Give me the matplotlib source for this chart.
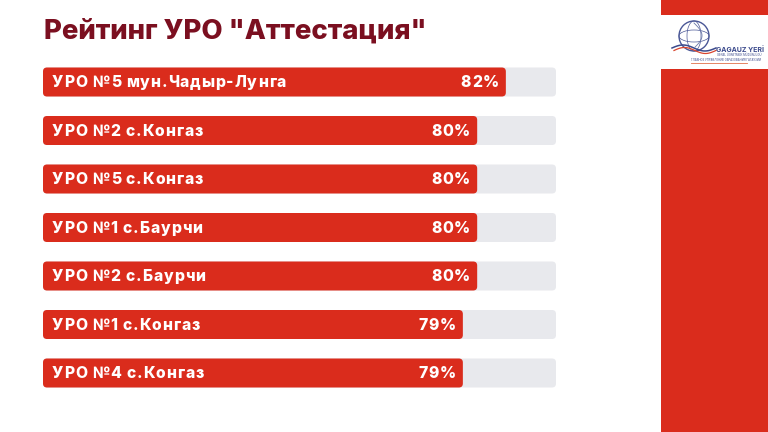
import matplotlib.pyplot as plt
from matplotlib.patches import FancyBboxPatch, Rectangle, Circle, Arc
from matplotlib.font_manager import FontProperties
import matplotlib.transforms as mtransforms
import numpy as np

plt.rcParams['font.family'] = ['Inter', 'DejaVu Sans']

# data
labels = ['УРО №5 мун.Чадыр-Лунга', 'УРО №2 с.Конгаз', 'УРО №5 с.Конгаз',
          'УРО №1 с.Баурчи', 'УРО №2 с.Баурчи', 'УРО №1 с.Конгаз', 'УРО №4 с.Конгаз']
values = [82, 80, 80, 80, 80, 79, 79]
title = 'Рейтинг УРО "Аттестация"'

RED = '#da2c1c'
DARK = '#7b0f20'
TRACK = '#e8e9ed'
W, H = 768, 432

fig = plt.figure(figsize=(7.68, 4.32), dpi=100)
fig.patch.set_facecolor('white')
renderer = fig.canvas.get_renderer()

# right red panel
fig.patches.append(Rectangle((661 / W, 0), 1 - 661 / W, 1, transform=fig.transFigure,
                             facecolor=RED, edgecolor='none', zorder=-5))

fig.text(44 / W, 1 - 39 / H, title, fontsize=19.8, fontweight='heavy', color=DARK,
         ha='left', va='baseline')

# bars
x0, x1 = 49.7, 85.5
ax = fig.add_axes([43 / W, (H - 397.25) / H, 513 / W, 339.5 / H])
ax.set_xlim(x0, x1)
ax.set_ylim(len(values) - 0.5, -0.5)
ax.axis('off')

px_x = (x1 - x0) / 513.0
px_y = 7.0 / 339.5
bh = 29 * px_y
r = 4
asp = px_y / px_x

prop = FontProperties(family=['Inter'], weight='heavy', size=11.3)
track = 0.85  # extra px between letters


def tw(s):
    w, h, d = renderer.get_text_width_height_descent(s, prop, ismath=False)
    return w


def tracked(x, y, s, align='left'):
    offs = [tw(s[:k] + 'H') - tw('H') + k * track for k in range(len(s))]
    total = offs[-1] + tw(s[-1])
    shift = -total if align == 'right' else 0
    for k, ch in enumerate(s):
        if ch == ' ':
            continue
        tr = ax.transData + mtransforms.Affine2D().translate(offs[k] + shift, 0)
        ax.text(x, y, ch, color='white', fontproperties=prop,
                ha='left', va='center', transform=tr)


def rbar(x, y, w, color):
    p = FancyBboxPatch((x, y - bh / 2), w, bh,
                       boxstyle='round,pad=0,rounding_size=%f' % (r * px_x),
                       mutation_aspect=asp, facecolor=color, edgecolor='none')
    ax.add_patch(p)


for i, (lab, v) in enumerate(zip(labels, values)):
    rbar(x0, i, x1 - x0, TRACK)
    rbar(x0, i, v - x0, RED)
    tracked(x0 + 9 * px_x, i + 0.02, lab)
    tracked(v - 7 * px_x, i + 0.02, '%d%%' % v, align='right')

# logo box
lx = fig.add_axes([661 / W, (H - 69) / H, 107 / W, 54 / H], zorder=5)
lx.set_xlim(0, 107)
lx.set_ylim(54, 0)
lx.axis('off')
lx.add_patch(Rectangle((0, 0), 107, 54, facecolor='white', edgecolor='none'))
lx.add_patch(Circle((33, 21), 15, facecolor='none', edgecolor='#4a5796', lw=1.0))
lx.add_patch(Arc((33, 21), 14, 30, facecolor='none', edgecolor='#4a5796', lw=0.5))
lx.add_patch(Arc((33, 21), 30, 12, facecolor='none', edgecolor='#4a5796', lw=0.5))
t = np.linspace(0, 1, 50)
lx.plot(33 + 8 * np.sin(t * 3), 8 + 24 * t, color='#6a78a8', lw=0.6)
lx.plot(11 + 44 * t, 33 - 3 * np.sin(t * 6.3), color='#3b4a8c', lw=1.1)
lx.plot(13 + 42 * t, 35.5 - 3 * np.sin(t * 6.3), color='#d9452e', lw=0.9)
lx.plot(30 + 56 * t, 47.5 + 0 * t, color='#e0704a', lw=0.6)
lx.text(55, 37, 'GAGAUZ YERİ', fontsize=5.0, fontweight='bold', color='#3b4a8c',
        ha='left', va='baseline')
lx.text(56, 41, 'GENEL ÜGRETMƏK MÜDÜRLÜGÜ', fontsize=2.0, color='#3b4a8c',
        ha='left', va='baseline')
lx.text(30, 46, 'ГЛАВНОЕ УПРАВЛЕНИЕ ОБРАЗОВАНИЯ ГАГАУЗИИ', fontsize=2.0,
        color='#3b4a8c', ha='left', va='baseline')

fig.savefig('out.png', dpi=100)
